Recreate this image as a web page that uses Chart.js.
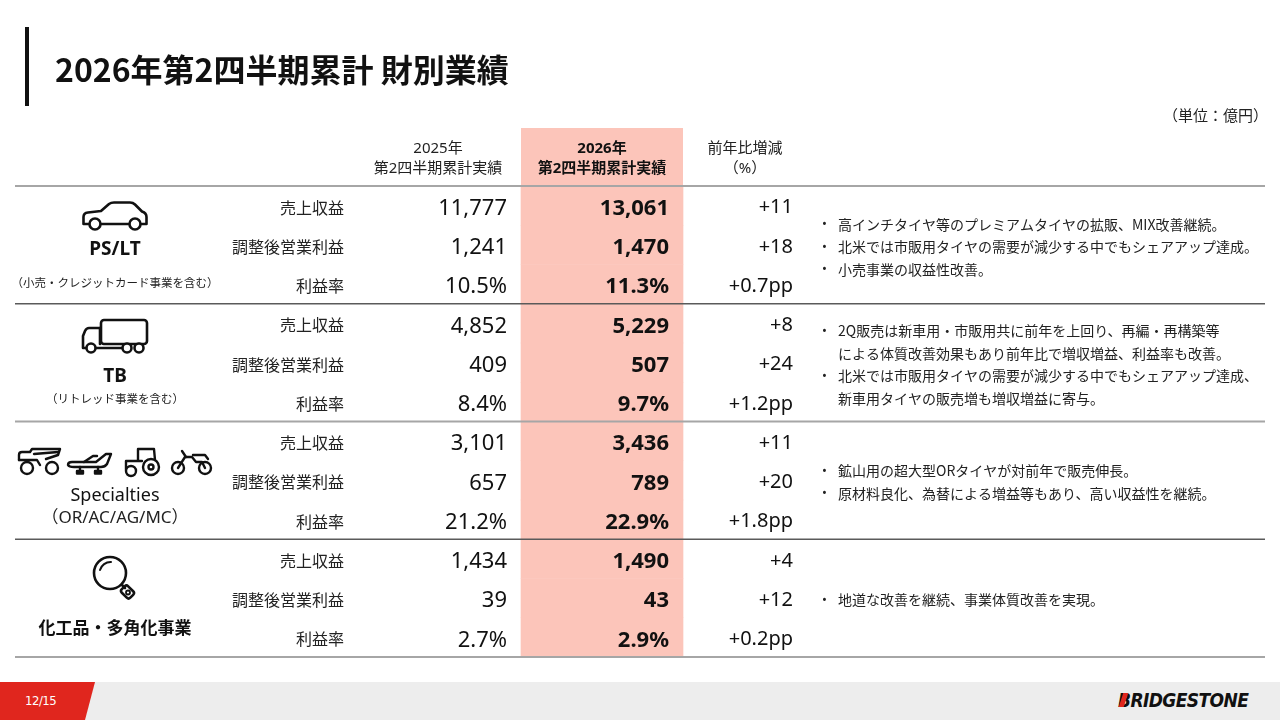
<!DOCTYPE html>
<html lang="ja">
<head>
<meta charset="utf-8">
<title>2026年第2四半期累計 財別業績</title>
<script src="https://cdn.jsdelivr.net/npm/chart.js@4.4.1/dist/chart.umd.min.js"></script>
<style>
  html, body { margin: 0; padding: 0; background: #fff; }
  body {
    width: 1280px; height: 720px; position: relative; overflow: hidden;
    font-family: "Noto Sans", "Noto Sans CJK JP", sans-serif; color: #111;
  }
  #table { position: absolute; left: 0; top: 0; }
  .title-bar { position: absolute; left: 25px; top: 27px; width: 4px; height: 79px; background: #111; }
  .title {
    position: absolute; left: 55px; top: 52px; font-size: 32px; line-height: 32px;
    font-weight: 700; font-family: "Noto Sans CJK JP", sans-serif; white-space: nowrap;
  }
  .unit {
    position: absolute; right: 12px; top: 105px; font-size: 15px; line-height: 20px;
    font-family: "Noto Sans CJK JP", sans-serif; color: #222;
  }
  .icon { position: absolute; }
  .footer { position: absolute; left: 0; top: 682px; width: 1280px; height: 38px; background: #ededed; }
  .page {
    position: absolute; left: 25px; top: 692px; color: #fff; font-size: 13px; line-height: 18px;
    font-family: "DejaVu Sans Condensed", "Noto Sans", sans-serif; letter-spacing: -0.5px;
  }
  .logo {
    position: absolute; left: 1118px; top: 689px; font-size: 19px; line-height: 22px;
    font-family: "DejaVu Sans Condensed", "DejaVu Sans", sans-serif; font-weight: 700;
    font-style: italic; letter-spacing: -0.6px; color: #111;
  }
  .logo-mark {
    position: absolute; left: 1121px; top: 693px; width: 5px; height: 14px; background: #e0261e;
    transform: skewX(-18deg);
  }
</style>
</head>
<body>
<canvas id="table" width="1280" height="720"></canvas>

<div class="title-bar"></div>
<div class="title">2026年第2四半期累計 財別業績</div>
<div class="unit">（単位：億円）</div>

<!-- PS/LT car -->
<svg class="icon" style="left:80px;top:200px" width="70" height="32" viewBox="0 0 70 32"
     fill="none" stroke="#111" stroke-width="2.6" stroke-linejoin="round" stroke-linecap="round">
  <path d="M9,24 H3.5 V17 Q3.5,13 8,12.5 L21,11 L29,4 Q31,2.5 34,2.5 H50 Q53,2.5 55,4.5 L62,11.5 Q66.5,13 66.5,17 V24 H61"/>
  <path d="M21,24 H49"/>
  <circle cx="15" cy="24" r="5.5" fill="#fff"/>
  <circle cx="55" cy="24" r="5.5" fill="#fff"/>
</svg>

<!-- TB truck -->
<svg class="icon" style="left:80px;top:316px" width="70" height="38" viewBox="0 0 70 38"
     fill="none" stroke="#111" stroke-width="2.6" stroke-linejoin="round" stroke-linecap="round">
  <rect x="21" y="4" width="46" height="24" rx="3"/>
  <path d="M20,12 H9 Q6.5,12 5,15 L3,20 V32 H6.5"/>
  <path d="M20,12 V28"/>
  <path d="M15.5,32 H42.5"/>
  <circle cx="11" cy="32" r="4.5" fill="#fff"/>
  <circle cx="47" cy="32" r="4.5" fill="#fff"/>
  <circle cx="59" cy="32" r="4.5" fill="#fff"/>
</svg>

<!-- Specialties: mining truck, airplane, tractor, motorcycle -->
<svg class="icon" style="left:16px;top:446px" width="48" height="32" viewBox="0 0 48 32"
     fill="none" stroke="#111" stroke-width="2.4" stroke-linejoin="round" stroke-linecap="round">
  <path d="M3,14 V9 Q3,6 6,6 H14 L16,3 H44 L42,9 L30,13"/>
  <path d="M18,8 L42,6"/>
  <path d="M3,14 H21 L24,19"/>
  <circle cx="11" cy="22" r="6" fill="#fff"/>
  <circle cx="36" cy="22" r="6" fill="#fff"/>
</svg>
<svg class="icon" style="left:66px;top:446px" width="48" height="32" viewBox="0 0 48 32"
     fill="none" stroke="#111" stroke-width="2.4" stroke-linejoin="round" stroke-linecap="round">
  <path d="M2,19 Q2,16 6,16 H30 L40,8 H45 L41,18 Q39,21 35,21 H8 Q3,21 2,19 Z"/>
  <path d="M18,16 L27,10 H31"/>
  <path d="M14,21 V25 M32,21 V25"/>
  <rect x="11" y="25" width="6" height="2.5" fill="#111"/>
  <rect x="29" y="25" width="6" height="2.5" fill="#111"/>
</svg>
<svg class="icon" style="left:122px;top:446px" width="42" height="32" viewBox="0 0 42 32"
     fill="none" stroke="#111" stroke-width="2.4" stroke-linejoin="round" stroke-linecap="round">
  <path d="M16,14 V3 H32 L33,14"/>
  <path d="M4,23 V15 H20"/>
  <circle cx="29" cy="21" r="8" fill="#fff"/>
  <circle cx="29" cy="21" r="2.5"/>
  <circle cx="9" cy="25" r="5" fill="#fff"/>
</svg>
<svg class="icon" style="left:170px;top:446px" width="44" height="32" viewBox="0 0 44 32"
     fill="none" stroke="#111" stroke-width="2.4" stroke-linejoin="round" stroke-linecap="round">
  <circle cx="8" cy="22" r="6"/>
  <circle cx="35" cy="22" r="6"/>
  <path d="M8,22 L15,11 H22 L26,16 H32 L35,22"/>
  <path d="M12,5 L16,11 M23,9 H35 L38,13"/>
</svg>

<!-- 化工品 magnifier -->
<svg class="icon" style="left:90px;top:554px" width="50" height="46" viewBox="0 0 50 46"
     fill="none" stroke="#111" stroke-width="2.6" stroke-linejoin="round" stroke-linecap="round">
  <circle cx="20" cy="19" r="16"/>
  <path d="M10,16 A11,11 0 0 1 21,8" stroke-width="2"/>
  <path d="M32,31 L35,34"/>
  <rect x="33" y="32" width="9" height="12" rx="2.5" transform="rotate(-45 37.5 38)"/>
  <circle cx="38" cy="38.5" r="2" stroke-width="1.8"/>
</svg>

<div class="footer"></div>
<svg class="icon" style="left:0;top:682px" width="100" height="38">
  <polygon points="0,0 95,0 85,38 0,38" fill="#e0261e"/>
</svg>
<div class="page">12/15</div>
<div class="logo">BRIDGESTONE</div>
<div class="logo-mark"></div>

<script>
// ---- data ----
const segments = ['PS/LT', 'TB', 'Specialties', '化工品・多角化事業'];
const segmentNotes = ['（小売・クレジットカード事業を含む）', '（リトレッド事業を含む）', '（OR/AC/AG/MC）', ''];
const metrics = ['売上収益', '調整後営業利益', '利益率'];

const headers2025 = ['2025年', '第2四半期累計実績'];
const headers2026 = ['2026年', '第2四半期累計実績'];
const headersChange = ['前年比増減', '（%）'];

const revenue2025 = [11777, 4852, 3101, 1434];
const profit2025 = [1241, 409, 657, 39];
const margin2025 = [10.5, 8.4, 21.2, 2.7];

const revenue2026 = [13061, 5229, 3436, 1490];
const profit2026 = [1470, 507, 789, 43];
const margin2026 = [11.3, 9.7, 22.9, 2.9];

const revenueChange = [11, 8, 11, 4];
const profitChange = [18, 24, 20, 12];
const marginChange = [0.7, 1.2, 1.8, 0.2];

const comments = [
  [['高インチタイヤ等のプレミアムタイヤの拡販、MIX改善継続。'],
   ['北米では市販用タイヤの需要が減少する中でもシェアアップ達成。'],
   ['小売事業の収益性改善。']],
  [['2Q販売は新車用・市販用共に前年を上回り、再編・再構築等', 'による体質改善効果もあり前年比で増収増益、利益率も改善。'],
   ['北米では市販用タイヤの需要が減少する中でもシェアアップ達成、', '新車用タイヤの販売増も増収増益に寄与。']],
  [['鉱山用の超大型ORタイヤが対前年で販売伸長。'],
   ['原材料良化、為替による増益等もあり、高い収益性を継続。']],
  [['地道な改善を継続、事業体質改善を実現。']]
];

// ---- rows built from the arrays ----
const fmtInt = v => v.toLocaleString('en-US');
const fmtPct = v => v.toFixed(1) + '%';
const rowLabels = [], col2025 = [], col2026 = [], colChange = [];
segments.forEach((s, i) => {
  metrics.forEach(m => rowLabels.push(s + ' ' + m));
  col2025.push(fmtInt(revenue2025[i]), fmtInt(profit2025[i]), fmtPct(margin2025[i]));
  col2026.push(fmtInt(revenue2026[i]), fmtInt(profit2026[i]), fmtPct(margin2026[i]));
  colChange.push('+' + revenueChange[i], '+' + profitChange[i], '+' + marginChange[i].toFixed(1) + 'pp');
});

// ---- layout (x in scale units, y offsets from section top) ----
const COL = { seg: 100, metric: 329, v2025: 492, hlFrom: 506, hlTo: 668, v2026: 654, change: 778, bullet: 807, note: 823 };
const head2025 = 423, head2026 = 587, headChange = 730;
const segNameY = [64, 73, 74, 88];
const segNoteY = [97, 95, 97, 0];
const HIGHLIGHT = '#fcc5ba';
const JP = '"Noto Sans CJK JP", sans-serif';
const NUM = '"Noto Sans", "Noto Sans CJK JP", sans-serif';

function put(ctx, str, x, y, font, align, color) {
  ctx.font = font;
  ctx.textAlign = align;
  ctx.textBaseline = 'middle';
  ctx.fillStyle = color || '#111';
  ctx.fillText(str, x, y);
}

const tablePlugin = {
  id: 'tableText',
  beforeDatasetsDraw(chart) {
    // header part of the highlighted 2026 column
    const { ctx, chartArea, scales: { x } } = chart;
    const l = x.getPixelForValue(COL.hlFrom), r = x.getPixelForValue(COL.hlTo);
    ctx.save();
    ctx.fillStyle = HIGHLIGHT;
    ctx.fillRect(l, 128, r - l, chartArea.top - 128 + 1);
    ctx.restore();
  },
  afterDatasetsDraw(chart) {
    const { ctx, chartArea, scales: { x, y } } = chart;
    const band = y.getPixelForValue(1) - y.getPixelForValue(0);
    ctx.save();

    // header
    put(ctx, headers2025[0], x.getPixelForValue(head2025), 149, '15px ' + NUM, 'center', '#222');
    put(ctx, headers2025[1], x.getPixelForValue(head2025), 169, '15px ' + NUM, 'center', '#222');
    put(ctx, headers2026[0], x.getPixelForValue(head2026), 149, 'bold 15px ' + NUM, 'center');
    put(ctx, headers2026[1], x.getPixelForValue(head2026), 169, 'bold 15px ' + NUM, 'center');
    put(ctx, headersChange[0], x.getPixelForValue(headChange), 149, '15px ' + NUM, 'center', '#222');
    put(ctx, headersChange[1], x.getPixelForValue(headChange), 169, '15px ' + NUM, 'center', '#222');

    // rows
    rowLabels.forEach((lab, i) => {
      const py = y.getPixelForValue(i) + 2;
      put(ctx, metrics[i % 3], x.getPixelForValue(COL.metric), py, '16px ' + JP, 'right', '#222');
      put(ctx, col2025[i], x.getPixelForValue(COL.v2025), py + 1, '22px ' + NUM, 'right');
      put(ctx, col2026[i], x.getPixelForValue(COL.v2026), py + 1, 'bold 22px ' + NUM, 'right');
      put(ctx, colChange[i], x.getPixelForValue(COL.change), py, '20px ' + NUM, 'right');
    });

    // segments & comments
    segments.forEach((s, k) => {
      const top = y.getPixelForValue(k * 3) - band / 2;
      const cx = x.getPixelForValue(COL.seg);
      let nameFont = 'bold 19px ' + NUM;
      if (k === 2) nameFont = '18px ' + NUM;
      if (k === 3) nameFont = 'bold 17px ' + JP;
      put(ctx, s, cx, top + segNameY[k], nameFont, 'center');
      if (segmentNotes[k]) {
        const noteFont = k === 2 ? '17px ' + NUM : '11.5px ' + JP;
        put(ctx, segmentNotes[k], cx, top + segNoteY[k], noteFont, 'center', '#222');
      }
      const lines = [];
      comments[k].forEach(b => b.forEach((t, j) => lines.push({ t, bullet: j === 0 })));
      const step = 22.5;
      const mid = top + band * 1.5 + 2;
      lines.forEach((ln, j) => {
        const ly = mid + (j - (lines.length - 1) / 2) * step;
        if (ln.bullet) put(ctx, '•', x.getPixelForValue(COL.bullet), ly, '13px ' + NUM, 'left', '#222');
        put(ctx, ln.t, x.getPixelForValue(COL.note), ly, '14px ' + JP, 'left', '#222');
      });
    });

    // horizontal rules
    for (let k = 0; k <= 4; k++) {
      const ly = k < 4 ? y.getPixelForValue(k * 3) - band / 2 : y.getPixelForValue(11) + band / 2;
      ctx.beginPath();
      ctx.strokeStyle = k % 2 === 0 ? '#a6a6a6' : '#5a5a5a';
      ctx.lineWidth = k % 2 === 0 ? 2.2 : 1.3;
      ctx.moveTo(chartArea.left, ly);
      ctx.lineTo(chartArea.right, ly);
      ctx.stroke();
    }
    ctx.restore();
  }
};

new Chart(document.getElementById('table'), {
  type: 'bar',
  data: {
    labels: rowLabels,
    datasets: [{
      label: '2026年第2四半期累計実績',
      data: rowLabels.map(() => [COL.hlFrom, COL.hlTo]),
      backgroundColor: HIGHLIGHT,
      borderWidth: 0,
      barPercentage: 1,
      categoryPercentage: 1
    }]
  },
  options: {
    indexAxis: 'y',
    responsive: false,
    animation: false,
    layout: { padding: { left: 15, right: 15, top: 186, bottom: 63 } },
    plugins: { legend: { display: false }, tooltip: { enabled: false } },
    scales: {
      x: { type: 'linear', min: 0, max: 1250, display: false },
      y: { type: 'category', display: false }
    }
  },
  plugins: [tablePlugin]
});
</script>
</body>
</html>
